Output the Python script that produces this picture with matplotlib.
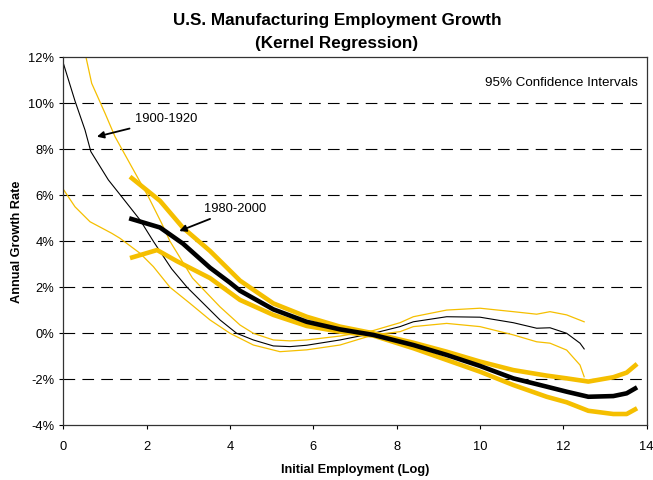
"""Kernel regression of U.S. manufacturing employment growth, two periods with 95% CIs."""

import matplotlib

matplotlib.use("Agg")
import matplotlib.pyplot as plt  # noqa: E402
from matplotlib.ticker import FuncFormatter  # noqa: E402

plt.rcParams["font.family"] = ["Liberation Sans", "DejaVu Sans"]

GOLD = "#f5bf00"

# 1900-1920 estimate and its confidence band (thin lines)
early_x = [0.0, 0.28, 0.52, 0.66, 1.08, 1.4, 1.84, 2.16, 2.6, 2.97, 3.76, 4.16, 4.56, 5.04,
           5.44, 5.84, 6.64, 7.44, 8.08, 8.4, 9.2, 10.0, 10.8, 11.36, 11.68, 12.08, 12.4, 12.5]
early_y = [11.74, 10.1, 8.84, 7.9, 6.67, 5.94, 4.93, 4.0, 2.8, 2.0, 0.58, 0.0, -0.29, -0.55,
           -0.58, -0.52, -0.29, 0.0, 0.29, 0.5, 0.72, 0.7, 0.46, 0.22, 0.24, 0.0, -0.43, -0.68]
early_hi_x = [0.52, 0.68, 1.0, 1.24, 1.64, 2.04, 2.36, 2.56, 3.1, 3.76, 4.24, 4.56, 5.04, 5.44,
              5.84, 6.64, 7.44, 8.08, 8.4, 9.2, 10.0, 10.8, 11.36, 11.68, 12.08, 12.5]
early_hi_y = [12.2, 10.87, 9.57, 8.55, 7.24, 5.94, 4.78, 4.0, 2.4, 1.15, 0.36, 0.0, -0.29,
              -0.33, -0.29, -0.12, 0.12, 0.46, 0.72, 1.01, 1.09, 0.94, 0.83, 0.94, 0.8, 0.5]
early_lo_x = [0.0, 0.28, 0.64, 1.16, 1.36, 1.84, 2.16, 2.56, 3.04, 3.52, 4.0, 4.56, 5.2, 5.84,
              6.64, 7.44, 8.08, 8.4, 9.2, 10.0, 10.8, 11.36, 11.68, 12.08, 12.4, 12.5]
early_lo_y = [6.26, 5.5, 4.85, 4.35, 4.13, 3.48, 2.9, 2.0, 1.3, 0.58, 0.0, -0.51, -0.8, -0.72,
              -0.51, -0.07, 0.07, 0.29, 0.43, 0.29, -0.07, -0.37, -0.43, -0.73, -1.38, -1.89]

# 1980-2000 estimate and its confidence band (thick lines)
late_x = [1.58, 2.32, 2.87, 3.52, 4.0, 4.24, 5.04, 5.84, 6.64, 7.44, 8.4, 9.2, 10.0, 10.8,
          11.6, 12.08, 12.6, 13.2, 13.52, 13.77]
late_y = [5.0, 4.6, 3.9, 2.85, 2.2, 1.85, 1.04, 0.5, 0.17, -0.07, -0.51, -0.94, -1.42, -1.96,
          -2.32, -2.54, -2.76, -2.73, -2.61, -2.35]
late_hi_x = [1.6, 2.32, 2.87, 3.52, 4.24, 5.04, 5.84, 6.64, 7.44, 8.4, 9.2, 10.0, 10.8, 11.6,
             12.08, 12.6, 13.2, 13.52, 13.77]
late_hi_y = [6.81, 5.76, 4.59, 3.58, 2.29, 1.3, 0.72, 0.29, 0.0, -0.41, -0.8, -1.23, -1.6,
             -1.84, -1.96, -2.1, -1.91, -1.71, -1.33]
late_lo_x = [1.6, 2.25, 2.72, 3.52, 4.24, 5.04, 5.84, 6.64, 7.44, 8.4, 9.2, 10.0, 10.8, 11.6,
             12.08, 12.6, 13.2, 13.52, 13.77]
late_lo_y = [3.27, 3.62, 3.14, 2.4, 1.45, 0.8, 0.32, 0.07, -0.1, -0.65, -1.16, -1.67, -2.25,
             -2.76, -3.0, -3.37, -3.51, -3.51, -3.26]

x_ticks = [0, 2, 4, 6, 8, 10, 12, 14]
y_ticks = [-4, -2, 0, 2, 4, 6, 8, 10, 12]

fig = plt.figure(figsize=(6.53, 4.8), dpi=100)
ax = fig.add_axes([0.097, 0.114, 0.8933, 0.7666])

for y in y_ticks[1:-1]:
    ax.axhline(y, color="black", lw=0.8, ls=(0, (10.5, 6.5)), zorder=0)

ax.plot(early_hi_x, early_hi_y, color=GOLD, lw=0.9)
ax.plot(early_lo_x, early_lo_y, color=GOLD, lw=0.9)
ax.plot(early_x, early_y, color="black", lw=0.8)
ax.plot(late_hi_x, late_hi_y, color=GOLD, lw=3.3, solid_capstyle="butt")
ax.plot(late_lo_x, late_lo_y, color=GOLD, lw=3.3, solid_capstyle="butt")
ax.plot(late_x, late_y, color="black", lw=3.3, solid_capstyle="butt")

ax.set_xlim(0, 14)
ax.set_ylim(-4, 12)
ax.set_xticks(x_ticks)
ax.set_yticks(y_ticks)
ax.yaxis.set_major_formatter(FuncFormatter(lambda v, _: f"{v:.0f}%"))
ax.tick_params(labelsize=9.3, length=3, width=0.8, direction="out")
ax.tick_params(axis="x", pad=8)
for side in ax.spines.values():
    side.set_linewidth(0.9)
    side.set_color("#333333")

ax.set_xlabel("Initial Employment (Log)", fontsize=9.2, fontweight="bold", labelpad=8)
ax.set_ylabel("Annual Growth Rate", fontsize=9.2, fontweight="bold", labelpad=4)
fig.text(0.516, 0.948, "U.S. Manufacturing Employment Growth", fontsize=12.3,
         fontweight="bold", ha="center", va="baseline")
fig.text(0.516, 0.900, "(Kernel Regression)", fontsize=12.3, fontweight="bold",
         ha="center", va="baseline")

arrow = dict(arrowstyle="-|>", color="black", lw=1.3, mutation_scale=10)
ax.annotate("1900-1920", xy=(0.74, 8.52), xytext=(1.72, 9.3), fontsize=9.3,
            va="center", ha="left", arrowprops=arrow)
ax.annotate("1980-2000", xy=(2.72, 4.4), xytext=(3.37, 5.4), fontsize=9.3,
            va="center", ha="left", arrowprops=arrow)
ax.text(13.8, 10.88, "95% Confidence Intervals", fontsize=9.6, ha="right", va="center")

fig.savefig("out.png", dpi=100)
